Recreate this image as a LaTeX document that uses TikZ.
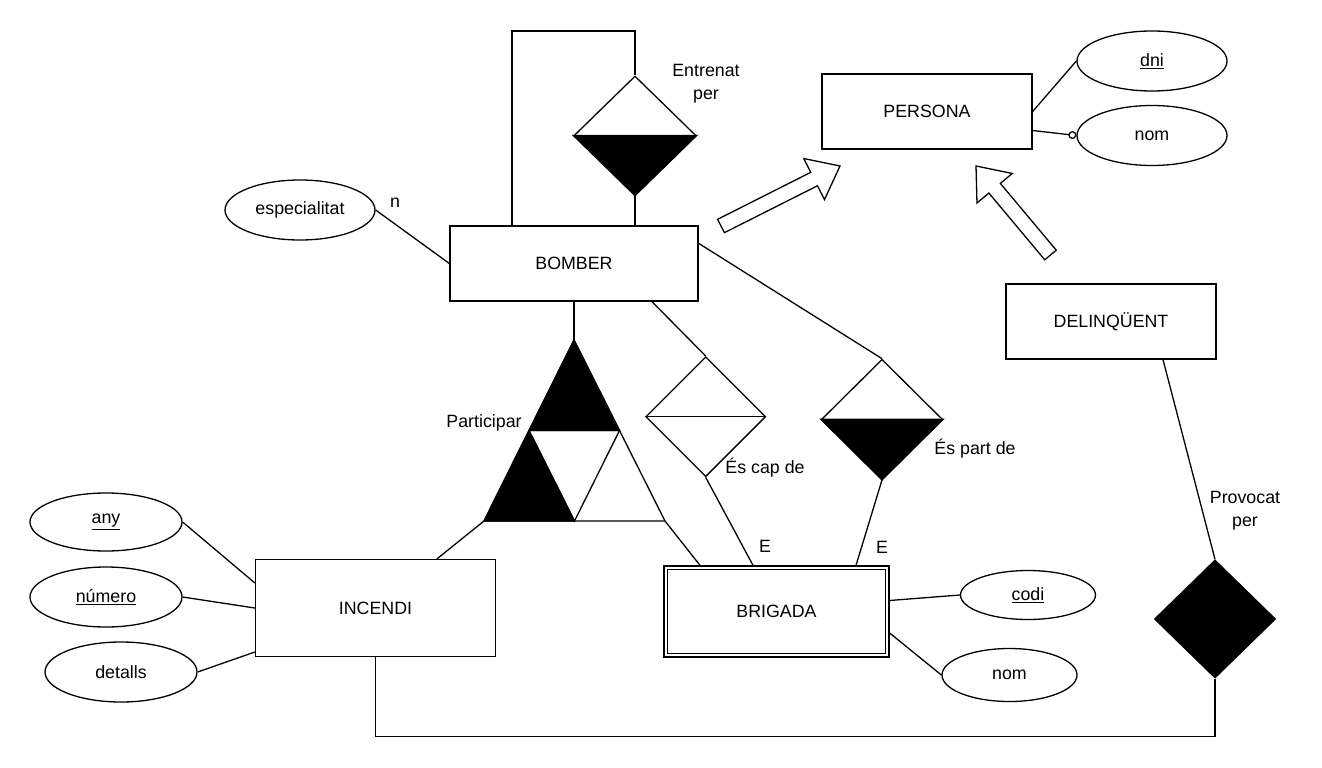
\documentclass[tikz,border=0pt]{standalone}
\usepackage{fontspec}
\setmainfont{Liberation Sans}
\usetikzlibrary{shapes.geometric,calc,arrows.meta}
\tikzset{
  ent/.style={draw,rectangle,minimum width=210,minimum height=75,inner sep=0},
  attr/.style={draw,ellipse,minimum width=150,minimum height=60,inner sep=0},
  rel/.style={draw,diamond,minimum width=120,minimum height=120,inner sep=0},
  lbl/.style={inner sep=0,align=center},
  hollow/.style={draw,fill=white,line join=miter}
}
\newcommand\hollowarr[2]{%
  \coordinate (hb) at ($(#2)!29pt!(#1)$);
  \draw[hollow] ($(#1)!7.5pt!90:(#2)$) -- ($(hb)!7.5pt!90:(#2)$) -- ($(hb)!23pt!90:(#2)$)
    -- (#2) -- ($(hb)!23pt!-90:(#2)$) -- ($(hb)!7.5pt!-90:(#2)$) -- ($(#1)!7.5pt!-90:(#2)$) -- cycle;}
\begin{document}
\begin{tikzpicture}[x=1pt,y=-1pt,line width=1.3pt,
  font=\fontsize{17.8}{23}\selectfont]
\useasboundingbox (0,0) rectangle (1322,768);
\fill[white] (0,0) rectangle (1322,768);

% entities
\node[ent,minimum width=248] (bomber) at (574,263.5) {BOMBER};
\node[ent] (persona) at (927,111.5) {PERSONA};
\node[ent] (delinq) at (1111,321.5) {DELINQÜENT};
\node[ent,minimum width=240,minimum height=97] (incendi) at (375.5,608) {INCENDI};
\node[ent,minimum width=225,minimum height=91] (brigada) at (776.5,611.5) {BRIGADA};
\draw ([xshift=4pt,yshift=4pt]brigada.south west) rectangle ([xshift=-4pt,yshift=-4pt]brigada.north east);

% attributes
\node[attr] (esp) at (300,210) {especialitat};
\node[attr,minimum width=152,minimum height=58] (any) at (106,522) {\underline{any}};
\node[attr,minimum width=152] (num) at (106,597) {\underline{número}};
\node[attr,minimum width=152] (det) at (121,672) {detalls};
\node[attr] (dni) at (1152,61) {\underline{dni}};
\node[attr] (pnom) at (1152,135.5) {nom};
\node[attr,minimum width=135,minimum height=49] (codi) at (1028,595) {\underline{codi}};
\node[attr,minimum width=135,minimum height=53] (bnom) at (1009.5,675) {nom};

% relationships
\node[rel,minimum width=122,minimum height=119] (entr) at (635,135.5) {};
\filldraw (entr.west) -- (entr.east) -- (entr.south) -- cycle;
\node[rel] (cap) at (705.7,416.7) {};
\draw (cap.west) -- (cap.east);
\node[rel,minimum width=121] (part) at (882,419.3) {};
\filldraw (part.west) -- (part.east) -- (part.south) -- cycle;
\node[rel,fill=black,minimum width=121,minimum height=118] (prov) at (1215,619) {};

% Participar ternary triangle
\coordinate (pA) at (574,340);
\coordinate (pL) at (484,521);
\coordinate (pR) at (665,521);
\coordinate (mL) at ($(pA)!0.5!(pL)$);
\coordinate (mR) at ($(pA)!0.5!(pR)$);
\coordinate (mB) at ($(pL)!0.5!(pR)$);
\filldraw (pA) -- (mL) -- (mR) -- cycle;
\filldraw (mL) -- (pL) -- (mB) -- cycle;
\draw[line join=miter] (pA) -- (pL) -- (pR) -- cycle;
\draw (mL) -- (mR) -- (mB) -- cycle;

% connectors
\draw (esp.east) -- (bomber.west);
\draw (512,0 |- bomber.north) -- (512,31) -- (635,31) -- (entr.north);
\draw (entr.south) -- (entr.south |- bomber.north);
\draw (bomber.south) -- (pA);
\draw (652,0 |- bomber.south) -- (cap.north);
\draw ([yshift=-18pt]bomber.north east) -- (part.north);
\draw (pL) -- (437,0 |- incendi.north);
\draw (pR) -- (700,0 |- brigada.north);
\draw (cap.south) -- (753,0 |- brigada.north);
\draw (part.south) -- (856,0 |- brigada.north);
\draw (any.east) -- ([yshift=25pt]incendi.west);
\draw (num.east) -- (incendi.west);
\draw (det.east) -- ([yshift=-44pt]incendi.west);
\draw (incendi.south) -- ++(0,79) -| (prov.south);
\draw (1163,0 |- delinq.south) -- (prov.north);
\draw (persona.east) -- (dni.west);
\draw[-{Circle[open,length=8pt,line width=1.3pt]}] ([yshift=-19pt]persona.east) -- (pnom.west);
\draw ([yshift=11pt]brigada.east) -- (codi.west);
\draw ([yshift=-21.5pt]brigada.east) -- (bnom.west);

% ISA hollow arrows
\coordinate (a1s) at (721,226);
\coordinate (a1e) at (840,166);
\hollowarr{a1s}{a1e}
\coordinate (a2s) at (1050.5,255);
\coordinate (a2e) at (976,166);
\hollowarr{a2s}{a2e}

% labels
\node[lbl] (lentr) at (706,84) {Entrenat\\per};
\node[lbl] (ln) at (395,203) {n};
\node[lbl] (lpart) at (484,423) {Participar};
\node[lbl] (lcap) at (765,468) {És cap de};
\node[lbl] (lpartde) at (975,449) {És part de};
\node[lbl] (le1) at (765,546) {E};
\node[lbl] (le2) at (882,547) {E};
\node[lbl] (lprov) at (1245,511) {Provocat\\per};
\end{tikzpicture}
\end{document}
